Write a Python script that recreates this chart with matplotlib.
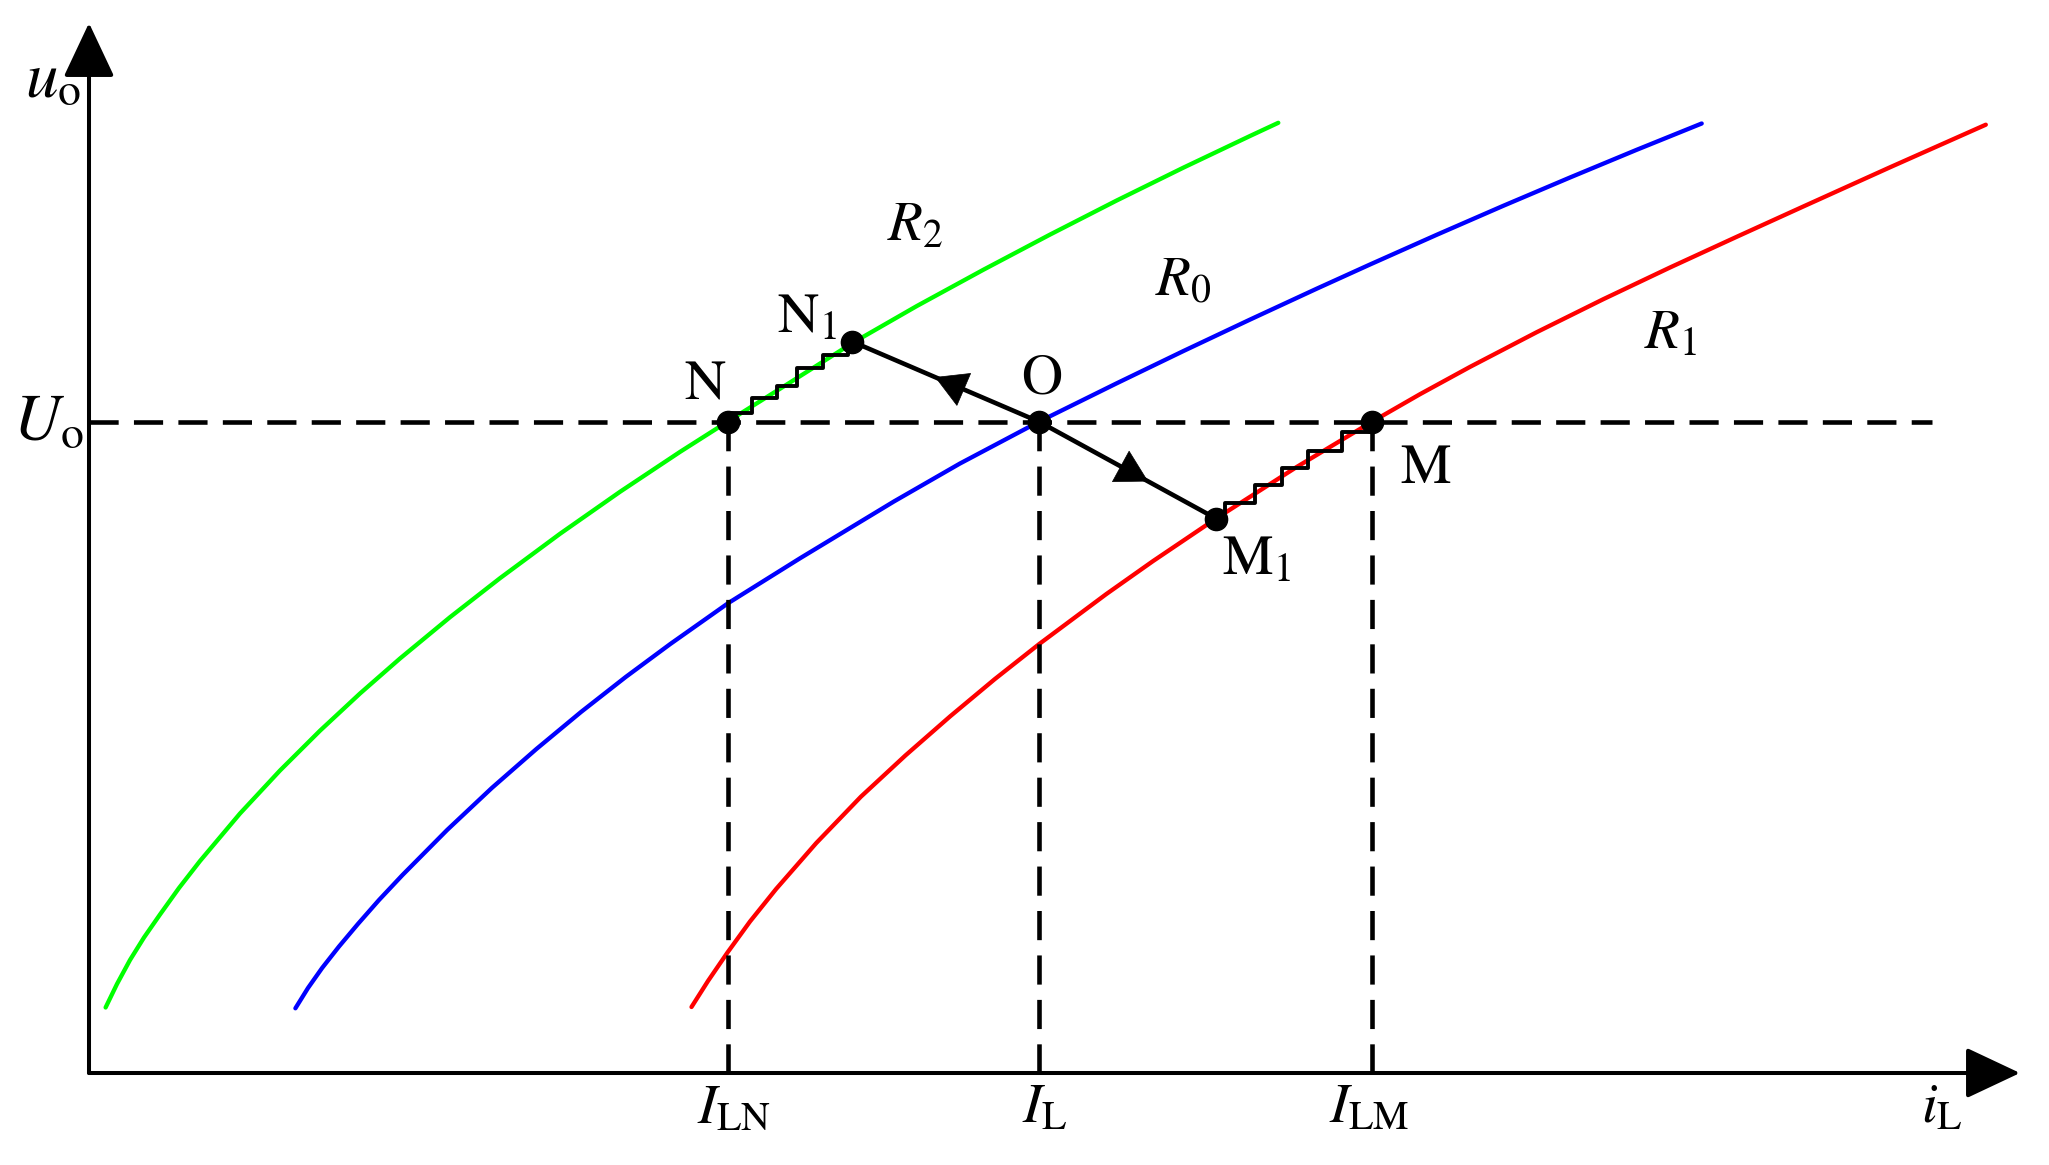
import matplotlib
matplotlib.use('Agg')
import matplotlib.pyplot as plt

plt.rcParams['font.family'] = ['STIXGeneral', 'DejaVu Serif']
plt.rcParams['mathtext.fontset'] = 'stix'
plt.rcParams['lines.scale_dashes'] = False

# load curves (iL, uo)
green_i = [16.6, 28, 41, 55, 71, 90, 111, 151, 191, 231, 271, 311, 361, 411, 471, 531,
           591, 638.5, 701, 764.3, 827.7, 894.3, 961, 1027.7, 1094.3, 1161, 1189.3]
green_u = [65.5, 89, 113, 135.5, 158.5, 185, 212, 259.5, 302.5, 342.3, 379.5, 414.5,
           455.8, 494.8, 539.2, 581.2, 621.1, 651.3, 690.5, 730.5, 766.9, 803.2,
           838.4, 872.5, 905.3, 937, 950.2]
blue_i = [206.4, 219, 233.1, 250, 268.9, 290, 313.5, 358.1, 402.8, 447.4, 492, 536.7,
          581.3, 639.4, 711, 804.9, 871, 950, 1027.7, 1094.3, 1161, 1227.7, 1281,
          1347.7, 1414.3, 1481, 1547.7, 1612.7]
blue_u = [64.7, 85, 105, 126.5, 149, 173, 198, 243, 285, 324, 361, 396, 429, 470, 514.7,
          571.5, 609.5, 651.3, 689.7, 721.9, 753.4, 784.3, 808.5, 838.2, 867.2,
          895.5, 923.2, 949.5]
red_i = [602.5, 619, 638.5, 661, 687.1, 727.3, 771.9, 816.5, 861.2, 905.8, 950.5,
         1017.4, 1064, 1126.4, 1207, 1282.6, 1331, 1381, 1447.7, 1514.3, 1581,
         1647.7, 1714.3, 1801, 1896.8]
red_u = [66, 92, 120.5, 151.5, 184, 230, 276.3, 317.6, 356.7, 393.9, 429.2, 479,
         511.9, 554, 605.6, 651, 678.8, 706.1, 740.8, 773.8, 805.5, 836.2, 866.5,
         905.7, 948.3]

U_o = 651.3
I_LN, I_L, I_LM = 638.5, 950, 1282.5
N1 = (763, 731.5)
M1 = (1127, 554.5)

# step paths N -> N1 and M1 -> M
stepN_i = [640, 662.7, 687.7, 707.7, 734.3, 759.3]
stepN_u = [659.7, 674.7, 687, 704.7, 718, 731.5]
stepM_i = [1136, 1136, 1166, 1192.7, 1218.7, 1252.7, 1281]
stepM_u = [558, 569.7, 588, 605.3, 622.3, 640.7, 651]

x_end, y_end = 1931, 1050   # axis arrow tips
dash_end = 1843

fig = plt.figure(figsize=(20.49, 11.65), dpi=100)
ax = fig.add_axes([0, 0, 1, 1])
ax.set_xlim(-89, 1960)
ax.set_ylim(-92, 1073)
ax.axis('off')

for xs, ys, c in [(green_i, green_u, '#00ff00'), (blue_i, blue_u, '#0000ff'),
                  (red_i, red_u, '#ff0000')]:
    ax.plot(xs, ys, color=c, lw=3.1, solid_capstyle='round', solid_joinstyle='round')

dash = (0, (21, 11))
ax.plot([0, dash_end], [U_o, U_o], color='k', lw=3.3, linestyle=dash)
for xv in [I_LN, I_L, I_LM]:
    ax.plot([xv, xv], [0, U_o], color='k', lw=3.3, linestyle=dash)

# axes with arrows
axis_style = '-|>,head_length=1.7,head_width=0.8'
ax.annotate('', xy=(x_end, 0), xytext=(0, 0),
            arrowprops=dict(arrowstyle=axis_style, mutation_scale=20, lw=2.9,
                            color='k', shrinkA=0, shrinkB=0))
ax.annotate('', xy=(0, y_end), xytext=(0, 0),
            arrowprops=dict(arrowstyle=axis_style, mutation_scale=20, lw=2.9,
                            color='k', shrinkA=0, shrinkB=0))

# operating point moves
O = (I_L, U_o)
ax.plot([O[0], N1[0]], [O[1], N1[1]], color='k', lw=3.3)
ax.plot([O[0], M1[0]], [O[1], M1[1]], color='k', lw=3.3)
ax.step(stepN_i, stepN_u, where='post', color='k', lw=2.8)
ax.step(stepM_i, stepM_u, where='post', color='k', lw=2.8)

mid_style = '-|>,head_length=2.2,head_width=1.25'
for end, frac in [(N1, 0.556), (M1, 0.617)]:
    tip = (O[0] + frac * (end[0] - O[0]), O[1] + frac * (end[1] - O[1]))
    back = (O[0] + (frac - 0.2) * (end[0] - O[0]), O[1] + (frac - 0.2) * (end[1] - O[1]))
    ax.annotate('', xy=tip, xytext=back,
                arrowprops=dict(arrowstyle=mid_style, mutation_scale=10, lw=0.5,
                                color='k', shrinkA=0, shrinkB=0))

pts_i = [I_LN, N1[0], I_L, M1[0], I_LM]
pts_u = [U_o, N1[1], U_o, M1[1], U_o]
ax.plot(pts_i, pts_u, 'o', color='k', ms=16, zorder=5)

fs = 41
ax.text(-64, 976, r'$u_{\mathrm{o}}$', fontsize=fs + 6, ha='left', va='baseline')
ax.text(-76, 633, r'$U_{\mathrm{o}}$', fontsize=fs + 6, ha='left', va='baseline')
ax.text(616, 674, 'N', fontsize=fs, ha='center', va='baseline')
ax.text(688, 740, r'$\mathrm{N}_1$', fontsize=fs, ha='left', va='baseline')
ax.text(953, 680, 'O', fontsize=fs, ha='center', va='baseline')
ax.text(1311, 590, 'M', fontsize=fs, ha='left', va='baseline')
ax.text(1133, 498, r'$\mathrm{M}_1$', fontsize=fs, ha='left', va='baseline')
ax.text(798, 833, r'$R_2$', fontsize=fs, ha='left', va='baseline')
ax.text(1066, 778, r'$R_0$', fontsize=fs, ha='left', va='baseline')
ax.text(1555, 725, r'$R_1$', fontsize=fs, ha='left', va='baseline')

ax.text(645, -50, r'$I_{\mathrm{LN}}$', fontsize=fs, ha='center', va='baseline')
ax.text(956, -50, r'$I_{\mathrm{L}}$', fontsize=fs, ha='center', va='baseline')
ax.text(1280, -50, r'$I_{\mathrm{LM}}$', fontsize=fs, ha='center', va='baseline')
ax.text(1853, -50, r'$i_{\mathrm{L}}$', fontsize=fs, ha='center', va='baseline')

fig.savefig('out.png', dpi=100, facecolor='white')
